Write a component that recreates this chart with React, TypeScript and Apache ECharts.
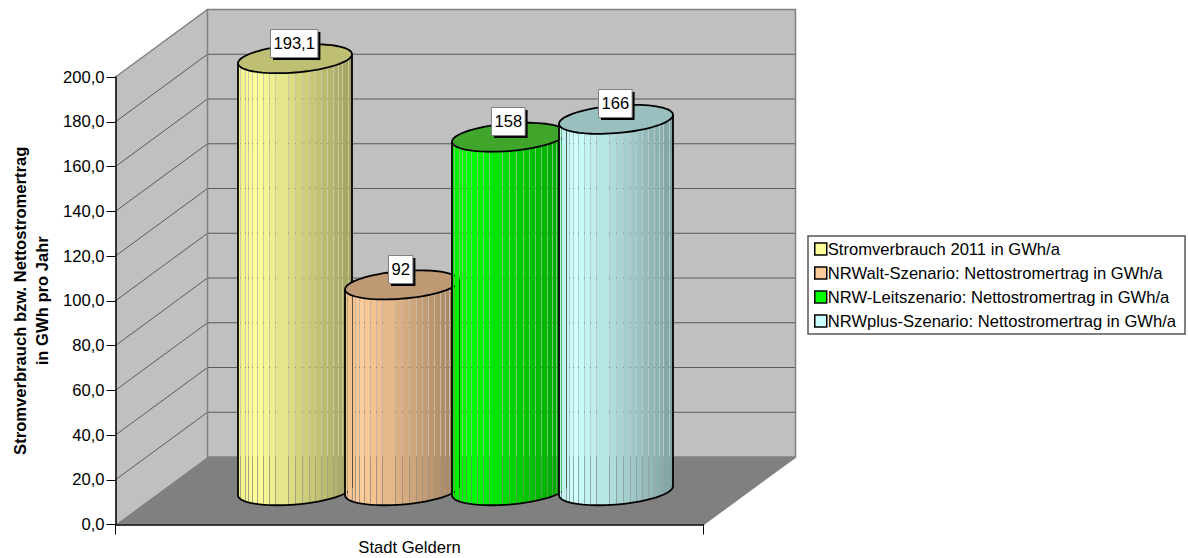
import React, { useEffect, useRef } from "react";
import * as echarts from "echarts";

const FONT = '"Liberation Sans", Arial, sans-serif';

const categories = ["Stadt Geldern"];
const yTicks = [0, 20, 40, 60, 80, 100, 120, 140, 160, 180, 200];
const seriesNames = [
  "Stromverbrauch 2011 in GWh/a",
  "NRWalt-Szenario: Nettostromertrag in GWh/a",
  "NRW-Leitszenario: Nettostromertrag in GWh/a",
  "NRWplus-Szenario: Nettostromertrag in GWh/a",
];
const seriesValues = [193.1, 92, 158, 166];
const valueLabels = ["193,1", "92", "158", "166"];
const sideColors = [
  [255, 255, 153],
  [255, 204, 153],
  [0, 255, 0],
  [204, 255, 255],
];
const capColors = ["#BFBF73", "#BF9973", "#40A62B", "#99BFBF"];

// Pseudo-3D projection of the plot box
const DEPTH_X = 92;
const DEPTH_Y = 67.5;
const RADIUS = 57;
const SPACING = 107;
const TILT = 4.5;
const MINOR = 13.8;
const FACETS = 26;
const SKIPPED_SEAMS = [1, 3, 11, 22, 24, 25];

const WALL = "#C0C0C0";
const FLOOR = "#808080";
const EDGE = "#808080";
const GRID = "#5A5A5A";
const FONT_SIZE = 16.6;

const rgb = (c: number[], f: number) =>
  `rgb(${c.map((v) => Math.round(v * f)).join(",")})`;

// Brightness across the cylinder, from its left edge (0) to its right edge (1)
function shade(t: number) {
  if (t < 0.15) return 0.93 + (0.07 * t) / 0.15;
  return 1 - (0.37 * (t - 0.15)) / 0.85;
}

function ellipsePoints(cx: number, cy: number) {
  const pts: number[][] = [];
  for (let i = 0; i < 72; i++) {
    const t = (i / 72) * Math.PI * 2;
    pts.push([
      cx + RADIUS * Math.cos(t),
      cy - TILT * Math.cos(t) + MINOR * Math.sin(t),
    ]);
  }
  return pts;
}

function frontArc(cx: number, cy: number) {
  const pts: number[][] = [];
  for (let i = 0; i <= 36; i++) {
    const t = Math.PI - (i / 36) * Math.PI;
    pts.push([
      cx + RADIUS * Math.cos(t),
      cy - TILT * Math.cos(t) + MINOR * Math.sin(t),
    ]);
  }
  return pts;
}

function frontY(x: number, cx: number, cy: number) {
  const c = Math.max(-1, Math.min(1, (x - cx) / RADIUS));
  return cy - TILT * c + MINOR * Math.sqrt(1 - c * c);
}

// Back wall, side wall, floor and their grid lines
function renderBox(params: any, api: any) {
  const g = params.coordSys;
  const left = g.x;
  const right = g.x + g.width;
  const bottom = g.y + g.height;
  const top = g.y;
  const children: any[] = [
    {
      type: "rect",
      shape: { x: left + DEPTH_X, y: top - DEPTH_Y, width: g.width, height: g.height },
      style: { fill: WALL },
    },
    {
      type: "polygon",
      shape: {
        points: [
          [left, top],
          [left + DEPTH_X, top - DEPTH_Y],
          [left + DEPTH_X, bottom - DEPTH_Y],
          [left, bottom],
        ],
      },
      style: { fill: WALL },
    },
    {
      type: "polygon",
      shape: {
        points: [
          [left, bottom],
          [left + DEPTH_X, bottom - DEPTH_Y],
          [right + DEPTH_X, bottom - DEPTH_Y],
          [right, bottom],
        ],
      },
      style: { fill: FLOOR },
    },
  ];
  yTicks.slice(1, -1).forEach((v) => {
    const y = api.coord([0, v])[1];
    children.push({
      type: "line",
      shape: { x1: left, y1: y, x2: left + DEPTH_X, y2: y - DEPTH_Y },
      style: { stroke: GRID, lineWidth: 1 },
    });
    children.push({
      type: "line",
      shape: { x1: left + DEPTH_X, y1: y - DEPTH_Y, x2: right + DEPTH_X, y2: y - DEPTH_Y },
      style: { stroke: GRID, lineWidth: 1 },
    });
  });
  children.push({
    type: "polyline",
    shape: {
      points: [
        [left, top],
        [left + DEPTH_X, top - DEPTH_Y],
        [right + DEPTH_X, top - DEPTH_Y],
        [right + DEPTH_X, bottom - DEPTH_Y],
        [right, bottom],
      ],
    },
    style: { fill: "none", stroke: EDGE, lineWidth: 1.5 },
  });
  children.push({
    type: "polyline",
    shape: {
      points: [
        [left + DEPTH_X, top - DEPTH_Y],
        [left + DEPTH_X, bottom - DEPTH_Y],
        [right + DEPTH_X, bottom - DEPTH_Y],
      ],
    },
    style: { fill: "none", stroke: EDGE, lineWidth: 1.5 },
  });
  return { type: "group", children };
}

// One faceted cylinder standing on the middle plane of the box
function cylinderRenderer(index: number) {
  return (params: any, api: any) => {
    const value = api.value(1);
    const base = api.coord([0, 0]);
    const head = api.coord([0, value]);
    const cx = base[0] + DEPTH_X / 2 + (index - 1.5) * SPACING;
    const by = base[1] - DEPTH_Y / 2;
    const ty = head[1] - DEPTH_Y / 2;
    const children: any[] = [];
    const arc = frontArc(cx, by);

    // Translucent body behind the facets keeps the seams between them soft
    children.push({
      type: "polygon",
      shape: {
        points: [[cx - RADIUS, ty + TILT], ...arc, [cx + RADIUS, ty - TILT]],
      },
      style: { fill: rgb(sideColors[index], 0.85), opacity: 0.4 },
    });

    const seams: number[] = [];
    for (let k = 0; k <= FACETS; k++) {
      if (!SKIPPED_SEAMS.includes(k)) {
        seams.push(Math.round(cx - RADIUS * Math.cos((k * Math.PI) / FACETS)));
      }
    }
    for (let i = 0; i < seams.length - 1; i++) {
      const x1 = seams[i] + (i > 0 ? 1 : 0);
      const x2 = seams[i + 1];
      if (x2 <= x1) continue;
      const t = ((x1 + x2) / 2 - (cx - RADIUS)) / (2 * RADIUS);
      children.push({
        type: "polygon",
        shape: {
          points: [
            [x1, ty - (TILT * (x1 - cx)) / RADIUS],
            [x2, ty - (TILT * (x2 - cx)) / RADIUS],
            [x2, frontY(x2, cx, by)],
            [x1, frontY(x1, cx, by)],
          ],
        },
        style: { fill: rgb(sideColors[index], shade(t)) },
      });
    }

    children.push({
      type: "polyline",
      shape: {
        points: [[cx - RADIUS, ty + TILT], ...arc, [cx + RADIUS, ty - TILT]],
      },
      style: { fill: "none", stroke: "#000", lineWidth: 1.8 },
    });
    children.push({
      type: "polygon",
      shape: { points: ellipsePoints(cx, ty) },
      style: { fill: capColors[index], stroke: "#000", lineWidth: 1.8 },
    });

    // Value flag with a hard drop shadow
    const text = valueLabels[index];
    const digits = text.replace(",", "").length;
    const w = digits * 9.2 + (text.length - digits) * 4.6 + 6;
    const h = 28;
    const lx = Math.round(cx - 1.5 - w / 2);
    const ly = Math.round(ty - 16 - h / 2);
    children.push({
      type: "rect",
      shape: { x: lx + 3, y: ly + 3, width: w, height: h },
      style: { fill: "#000" },
    });
    children.push({
      type: "rect",
      shape: { x: lx + 0.5, y: ly + 0.5, width: w, height: h },
      style: { fill: "#fff", stroke: "#808080", lineWidth: 1 },
    });
    children.push({
      type: "text",
      style: {
        x: lx + 0.5 + w / 2,
        y: ly + 0.5 + h / 2,
        text,
        fill: "#000",
        font: `${FONT_SIZE}px ${FONT}`,
        align: "center",
        verticalAlign: "middle",
      },
    });
    return { type: "group", children };
  };
}

export default function App() {
  const ref = useRef<HTMLDivElement>(null);

  useEffect(() => {
    const chart = echarts.init(ref.current!, null, { renderer: "svg" });
    chart.setOption({
      animation: false,
      backgroundColor: "#fff",
      textStyle: { fontFamily: FONT },
      grid: {
        left: 115.5,
        top: 77,
        width: 588,
        height: 447.5,
        containLabel: false,
        outerBoundsMode: "none",
      },
      legend: {
        orient: "vertical",
        left: 808,
        top: 236,
        padding: [4, 9, 4, 6],
        itemGap: 6,
        itemWidth: 12,
        itemHeight: 12,
        icon: "rect",
        backgroundColor: "#fff",
        borderColor: "#555",
        borderWidth: 1.5,
        borderRadius: 0,
        selectedMode: false,
        textStyle: {
          fontFamily: FONT,
          fontSize: FONT_SIZE,
          color: "#000",
          lineHeight: 18,
          padding: [0, 0, 0, -4],
        },
        data: seriesNames.map((name) => ({
          name,
          itemStyle: { borderColor: "#000", borderWidth: 1.5 },
        })),
      },
      xAxis: {
        type: "category",
        data: categories,
        z: 5,
        axisLine: { lineStyle: { color: "#000", width: 1.5 } },
        axisTick: { show: true, length: 10, lineStyle: { color: "#000", width: 1 } },
        axisLabel: { fontFamily: FONT, fontSize: FONT_SIZE, color: "#000", margin: 14 },
        splitLine: { show: false },
      },
      yAxis: {
        type: "value",
        min: 0,
        max: 200,
        interval: 20,
        z: 5,
        name: "Stromverbrauch bzw. Nettostromertrag\nin GWh pro Jahr",
        nameLocation: "middle",
        nameRotate: 90,
        nameGap: 62,
        nameTextStyle: {
          fontFamily: FONT,
          fontSize: FONT_SIZE,
          fontWeight: "bold",
          color: "#000",
          lineHeight: 22,
        },
        axisLine: { show: true, lineStyle: { color: "#000", width: 1.5 } },
        axisTick: { show: true, length: 9, lineStyle: { color: "#000", width: 1 } },
        axisLabel: {
          fontFamily: FONT,
          fontSize: FONT_SIZE,
          color: "#000",
          margin: 11,
          padding: [2, 0, 0, 0],
          formatter: (v: number) => v.toFixed(1).replace(".", ","),
        },
        splitLine: { show: false },
      },
      series: [
        {
          type: "custom",
          name: "box",
          silent: true,
          z: 1,
          data: [[0, 0]],
          renderItem: renderBox,
        },
        ...seriesNames.map((name, i) => ({
          type: "custom",
          name,
          silent: true,
          z: 2 + i,
          itemStyle: { color: rgb(sideColors[i], 1) },
          encode: { x: 0, y: 1 },
          data: [[0, seriesValues[i]]],
          renderItem: cylinderRenderer(i),
        })),
      ],
    });
    return () => chart.dispose();
  }, []);

  return (
    <div
      ref={ref}
      style={{ position: "absolute", left: 0, top: 0, width: 1188, height: 558 }}
    />
  );
}
